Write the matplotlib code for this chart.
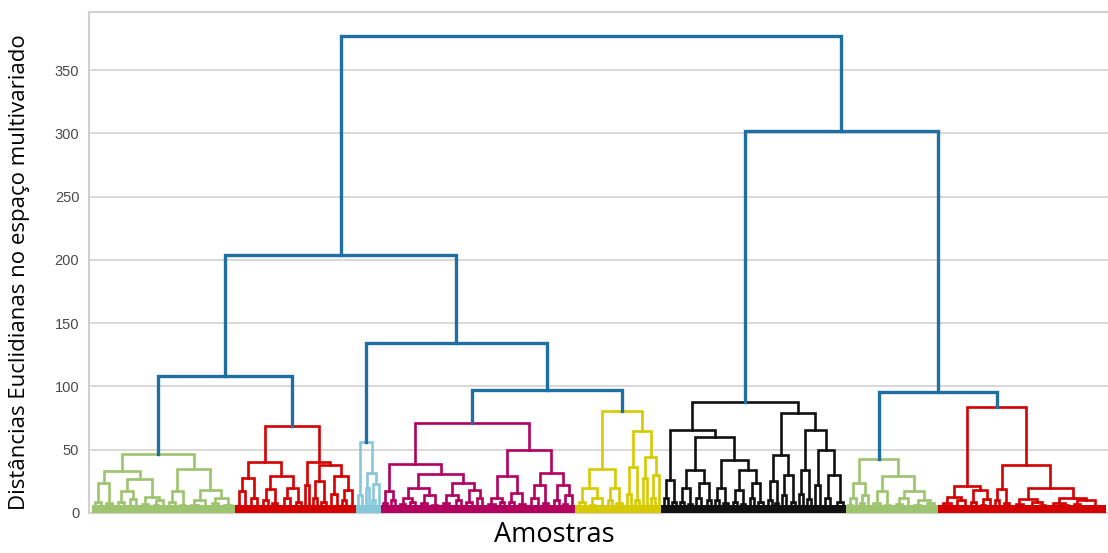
import matplotlib.pyplot as plt

# Cluster subtrees: (merge height, left, right); a bare int is a tight clump of that many samples
green_a = (47,
           (33, (24, (9, 3, 3), (8, 2, 3)),
                (27, (17, (9, 3, 3), (11, 3, 3)), (13, (7, 3, 3), (10, (6, 2, 2), 3)))),
           (35, (17, (9, 3, 3), (6, 2, 3)),
                (18, (10, (6, 3, 3), 4), (12, (8, 3, 3), (6, 3, 4)))))
red_a = (69,
         (40, (28, (17, 3, 3), (12, 3, 3)),
              (29, (19, (10, 3, 2), (8, 2, 3)), (20, (12, 3, 3), (9, 3, 2)))),
         (40, (22, 2, 2),
              (38, (25, (12, 2, 2), (9, 2, 2)), (29, (15, 3, 3), (18, (10, 2, 2), 4)))))
cyan = (56, (14, 2, 2), (32, (20, 1, 2), (23, (10, 1, 2), 2)))
magenta = (71,
           (39, (17, (8, 2, 2), (10, 2, 2)),
                (31, (20, (12, (7, 3, 2), (9, 2, 3)), (14, (8, 3, 3), (6, 2, 3))),
                     (24, (14, (8, 3, 3), (10, 3, 2)), (18, (9, 3, 3), (12, 2, 3))))),
           (50, (29, (12, (7, 3, 3), (9, 2, 2)), (16, (9, 3, 2), (7, 3, 3))),
                (32, (22, (12, 3, 3), (8, 2, 3)), (22, (10, 3, 2), (14, (7, 2, 2), 3)))))
yellow = (81,
          (35, (20, (9, 3, 3), (12, (6, 2, 3), 4)), (20, (10, 2, 2), (8, 2, 3))),
          (65, (36, (15, 2, 2), (10, 2, 2)), (44, (28, 2, 2), (30, (12, 2, 2), 2))))
black = (88,
         (66, (26, (12, 2, 2), (9, 2, 2)),
              (60, (34, (20, (9, 2, 2), (7, 2, 2)), (24, (12, 2, 3), (10, 2, 2))),
                   (42, (20, (10, 2, 2), (8, 2, 3)),
                        (34, (18, (9, 2, 2), (7, 2, 2)), (24, (12, 2, 2), (9, 2, 3)))))),
         (79, (46, (25, (10, 2, 2), (8, 1, 2)), (30, (14, 2, 2), (9, 2, 2))),
              (66, (34, (15, 2, 2), (11, 2, 2)),
                   (50, (22, 2, 3), (30, (12, 2, 3), (9, 3, 3))))))
green_b = (43,
           (24, (12, (6, 2, 2), 2), (14, (8, 2, 2), 2)),
           (29, (17, (8, 3, 3), (6, 2, 3)),
                (17, (12, (7, 3, 3), 3), (10, (6, 3, 3), (8, 3, 4)))))
red_b = (84,
         (21, (13, (8, (5, 2, 3), 3), (10, 3, 4)), (18, (9, 2, 3), (11, (6, 2, 2), 3))),
         (38, (19, (10, 2, 2), (8, 2, 3)),
              (20, (11, (7, (4, 2, 2), 3), (9, (5, 3, 3), (6, 2, 2))),
                   (12, (8, (5, 3, 3), (6, 3, 3)), (10, (7, 3, 3), (5, (3, 3, 3), 5))))))

clusters = {"g1": green_a, "r1": red_a, "c": cyan, "m": magenta,
            "y": yellow, "k": black, "g2": green_b, "r2": red_b}
colors = {"g1": "#9dc46f", "r1": "#d40000", "c": "#86c8da", "m": "#b3005f",
          "y": "#d8ca00", "k": "#111111", "g2": "#9dc46f", "r2": "#d40000"}

# Links above the cut
top_tree = (377,
            (204, (108, "g1", "r1"), (134, "c", (97, "m", "y"))),
            (302, "k", (96, "g2", "r2")))
link_color = "#1f6fa0"

fig = plt.figure(figsize=(11.08, 5.53), dpi=100)
ax = fig.add_axes([89 / 1108, 40 / 553, 1 - 89 / 1108, 501 / 553])

band_h = 6


def draw(node, start, color):
    # returns x, height, next free position
    if isinstance(node, int):
        return start + node / 2, 0, start + node
    if isinstance(node, str):
        c = colors[node]
        x, h, end = draw(clusters[node], start, c)
        ax.fill_between([start, end], 0, band_h, color=c, lw=0, zorder=3)
        return x, h, end
    h, left, right = node
    lx, lh, mid = draw(left, start, color)
    rx, rh, end = draw(right, mid, color)
    lw = 2.4 if color == link_color else 1.9
    ax.plot([lx, lx, rx, rx], [lh, h, h, rh], color=color, lw=lw,
            solid_joinstyle="miter", zorder=4)
    return (lx + rx) / 2, h, end


_, _, total = draw(top_tree, 0, link_color)

ax.set_xlim(-1.5, total + 1)
ax.set_ylim(0, 396)
ax.set_yticks(range(0, 351, 50))
ax.set_xticks([])
ax.grid(axis="y", color="#d6d6d6", lw=1.3, zorder=0)
ax.tick_params(axis="y", length=0, pad=7, labelsize=10.5, labelcolor="#4a4a4a")
for lab in ax.get_yticklabels():
    lab.set_family("Liberation Sans")
for side in ["left", "top", "bottom"]:
    ax.spines[side].set_color("#d0d0d0")
    ax.spines[side].set_linewidth(1.5)
ax.spines["right"].set_visible(False)

fig.text(0.5005, 0.008, "Amostras", ha="center", va="bottom",
         family="Open Sans", fontsize=19.5)
fig.text(0.018, 0.508, "Distâncias Euclidianas no espaço multivariado",
         rotation=90, ha="center", va="center", family="Open Sans", fontsize=16)

fig.savefig("out.png", dpi=100)
